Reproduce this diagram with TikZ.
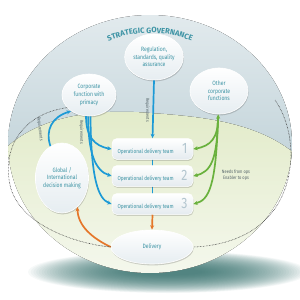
\documentclass[tikz,border=0pt]{standalone}
\usepackage{fontspec}
\setmainfont[FakeStretch=0.82]{Fira Sans}
\newfontfamily\titlefont{Fira Sans}
\usetikzlibrary{arrows.meta,shadows,decorations.text,shapes.geometric}
\definecolor{tealT}{HTML}{3C93A4}
\definecolor{numC}{HTML}{B3C6CF}
\definecolor{grayTop}{HTML}{E3EBEE}
\definecolor{grayBot}{HTML}{C3D4DA}
\definecolor{greenTop}{HTML}{E2EBC9}
\definecolor{greenBot}{HTML}{F5F8EE}
\definecolor{shadowC}{HTML}{2D6A66}
\definecolor{bubbleB}{HTML}{E6EDF1}
\definecolor{boxB}{HTML}{E4EBEF}
\definecolor{blueA}{HTML}{1D9AD6}
\definecolor{greenA}{HTML}{69B13D}
\definecolor{orangeA}{HTML}{E5772A}
\definecolor{labelC}{HTML}{56656A}
\pgfdeclarelayer{bg}
\pgfsetlayers{bg,main}
\newcommand{\teamtext}[1]{\makebox[70pt][l]{\raisebox{0.8pt}{Operational delivery team}\hfill{\color{numC}\fontsize{15}{15}\selectfont #1}}}
\begin{document}
\begin{tikzpicture}[x=1pt,y=-1pt,
  bubble/.style={ellipse, draw=white, line width=0.6pt, top color=white, bottom color=bubbleB,
    drop shadow={shadow xshift=0.6pt, shadow yshift=-1.4pt, opacity=0.25, fill=black!70},
    inner sep=0pt, align=center, text=tealT, font=\fontsize{6.2}{7.6}\selectfont},
  teambox/.style={rounded corners=5pt, draw=white, line width=0.5pt, top color=white, bottom color=boxB,
    drop shadow={shadow xshift=0.6pt, shadow yshift=-1.4pt, opacity=0.22, fill=black!70},
    minimum width=81pt, minimum height=21pt, inner sep=0pt, text=tealT, font=\fontsize{5.8}{7}\selectfont},
  reqlabel/.style={text=labelC, font=\fontsize{4.6}{5}\selectfont, inner sep=0.5pt},
  blueline/.style={draw=blueA, line width=1.7pt, -{Stealth[length=4.5pt,width=4pt]}},
  greenline/.style={draw=greenA, line width=1.7pt, -{Stealth[length=4.5pt,width=4pt]}},
  orangeline/.style={draw=orangeA, line width=1.7pt, -{Stealth[length=4.5pt,width=4pt]}},
  dotline/.style={draw=black!80, line width=0.55pt, dash pattern=on 0.6pt off 0.9pt}
]
\useasboundingbox (0,0) rectangle (300,300);

\begin{pgfonlayer}{bg}
  % ground shadow
  \foreach \i in {0,...,39}{
    \fill[shadowC, opacity=0.042] (168,272) ellipse [x radius={140-2.7*\i}, y radius={21-0.45*\i}];
  }
  % big globe
  \begin{scope}
    \clip (150,144) ellipse [x radius=142, y radius=129];
    \fill[top color=grayTop, bottom color=grayBot] (0,10) rectangle (300,160);
    \fill[top color=greenTop, bottom color=greenBot]
      (0,152) -- (8,146) .. controls (40,118) and (90,108) .. (150,113)
      .. controls (210,117) and (262,124) .. (300,158) -- (300,280) -- (0,280) -- cycle;
  \end{scope}
  \path[decorate, decoration={text along path, text align=center, text color=tealT,
     text={|\titlefont\bfseries\fontsize{7.6}{8}\selectfont|STRATEGIC GOVERNANCE}}]
     (150,144) ++(208:111) arc[start angle=208, end angle=332, radius=111];
\end{pgfonlayer}

% nodes
\node[bubble, minimum width=58pt, minimum height=46pt] (reg) at (154,57) {Regulation,\\standards, quality\\assurance};
\node[bubble, minimum width=54pt, minimum height=42pt] (corp) at (89,95) {Corporate\\function with\\primacy};
\node[bubble, minimum width=58pt, minimum height=46pt] (other) at (219,91) {Other\\corporate\\functions};
\node[bubble, minimum width=52pt, minimum height=70pt] (glob) at (62,178) {Global /\\International\\decision making};
\node[bubble, minimum width=82pt, minimum height=34pt] (deliv) at (152,247) {Delivery};

\node[teambox] (t1) at (152.5,149) {\teamtext{1}};
\node[teambox] (t2) at (152.5,176) {\teamtext{2}};
\node[teambox] (t3) at (152.5,204) {\teamtext{3}};

% line through the teams (behind boxes)
\begin{pgfonlayer}{bg}
  \draw[blueA, line width=1.7pt] (t1.center) -- (t3.center);
\end{pgfonlayer}

% regulation requirements
\draw[blueline] (reg.south) -- (t1.north);
\node[reqlabel, rotate=-90] (lreg) at (147.5,110) {Requirements};

% corporate function fan
\draw[blueline] (corp.-98) .. controls (86,136) and (94,146) .. (t1.west);
\draw[blueline] (corp.-92) .. controls (88,152) and (95,171) .. (t2.west);
\draw[blueline] (corp.-86) .. controls (91,178) and (98,199) .. (t3.west);
\node[reqlabel, rotate=-90] (lcorp) at (81.5,132) {Requirements};

% global to corporate
\draw[blueline] (glob.110) .. controls (45,130) and (52,117) .. (corp.-138);
\node[reqlabel, rotate=-84] (lglob) at (40,129) {Requirements};

% other corporate functions fan
\coordinate (og) at (218,118);
\draw[greenline, {Stealth[length=4.5pt,width=4pt]}-{Stealth[length=4.5pt,width=4pt]}] (other.-92) .. controls (218,138) and (211,146) .. (t1.east);
\draw[greenline] (og) .. controls (217,160) and (211,172) .. (t2.east);
\draw[greenline] (og) .. controls (216,186) and (209,200) .. (t3.east);
\node[text=labelC, font=\fontsize{4.8}{6}\selectfont, align=center] (needs) at (236,175) {Needs from ops\\Enabler to ops};

% orange
\draw[orangeline] (t3.south) -- (deliv.north);
\draw[orangeline] (deliv.west) .. controls (92,238) and (78,226) .. (glob.-62);

% dotted loops
\draw[dotline] (corp.-150) .. controls (22,114) and (2,148) .. (10,185) .. controls (18,222) and (70,243) .. (deliv.west);
\coordinate (rd) at (275,100);
\draw[dotline] (rd) .. controls (296,130) and (298,182) .. (270,215) .. controls (250,238) and (220,246) .. (deliv.east);
\end{tikzpicture}
\end{document}
